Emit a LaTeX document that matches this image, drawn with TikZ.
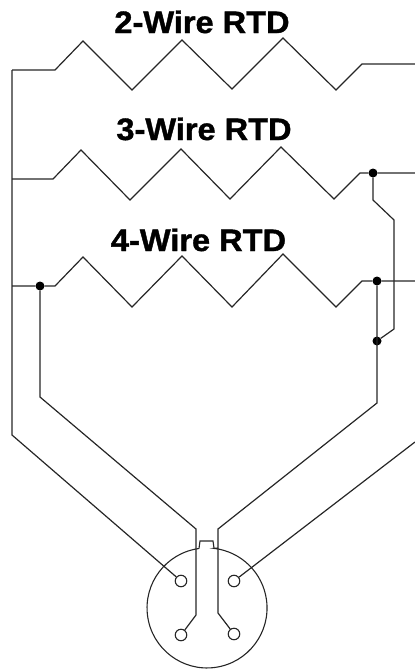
\documentclass[tikz,border=0pt]{standalone}
\usepackage{fontspec}
\setmainfont[BoldFeatures={FakeBold=1.2}]{Liberation Sans}
\tikzset{
  wire/.style={draw=black!85,line width=1.2pt,line join=miter},
  dotnode/.style={circle,fill=black,inner sep=0pt,minimum size=9pt},
  pin/.style={circle,draw=black!85,line width=1.1pt,fill=white,inner sep=0pt,minimum size=11.5pt},
  title/.style={font=\fontsize{31}{31}\selectfont\bfseries,anchor=base,inner sep=0pt,xscale=1.05},
}
\begin{document}
\begin{tikzpicture}[x=1pt,y=-1pt]
\useasboundingbox (0,0) rectangle (415,670);
% labels
\node[title] (t2) at (202,33) {2-Wire RTD};
\node[title] (t3) at (204,140) {3-Wire RTD};
\node[title] (t4) at (198.5,251) {4-Wire RTD};
% named points
\coordinate (busTop) at (12,70);
\coordinate (busBot) at (12,435);
\coordinate (r3in) at (12,179);
\coordinate (r4in) at (12,286);
\coordinate (out2) at (415,64);
\coordinate (out3) at (415,173);
\coordinate (out4) at (415,281);
\coordinate (out5) at (415,442);
% connector circle with keyway
\draw[wire,line width=1.1pt] (199,548.5) arc[start angle=-97.7,end angle=-443.3,radius=60] -- (218,548) (214,548) -- (213,541) -- (200,541) -- (199,548.5);
% pins
\node[pin] (pTL) at (181,581) {};
\node[pin] (pTR) at (234,581) {};
\node[pin] (pBL) at (181,635) {};
\node[pin] (pBR) at (234,634) {};
% junctions
\node[dotnode] (j4L) at (40,286) {};
\node[dotnode] (j3R) at (373,173) {};
\node[dotnode] (j4R) at (377,281) {};
\node[dotnode] (jLow) at (377,341) {};
% resistors
\draw[wire] (busTop) -- (55,70) -- (83,41) -- (132,90) -- (182,40) -- (232,89) -- (283,38) -- (336,90) -- (362,64) -- (out2);
\draw[wire] (r3in) -- (53,179) -- (81,150) -- (130,200) -- (181,149) -- (230,199) -- (281,147) -- (334,199) -- (360,173) -- (j3R) -- (out3);
\draw[wire] (r4in) -- (j4L) -- (55,286) -- (83,257) -- (132,307) -- (182,256) -- (232,307) -- (283,254) -- (336,307) -- (362,281) -- (j4R) -- (out4);
% bus and leads
\draw[wire] (busTop) -- (busBot) -- (pTL);
\draw[wire] (j4L) -- (40,397) -- (196,529) -- (196,615) -- (pBL);
\draw[wire] (j4R) -- (377,403) -- (218,529) -- (218,613) -- (pBR);
\draw[wire] (out5) -- (pTR);
\draw[wire] (j3R) -- (373,200) -- (394,220) -- (394,329) -- (jLow);
\end{tikzpicture}
\end{document}
